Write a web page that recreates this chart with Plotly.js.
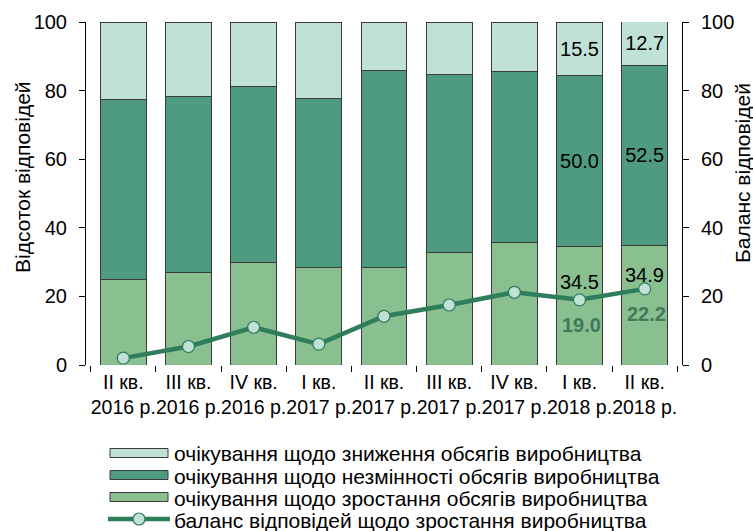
<!DOCTYPE html>
<html>
<head>
<meta charset="utf-8">
<script src="https://cdn.plot.ly/plotly-3.0.1.min.js"></script>
<style>html,body{margin:0;padding:0;background:#fff;}#chart{width:753px;height:531px;}</style>
</head>
<body>
<div id="chart"></div>
<script>
const categories = ["II кв.<br>2016 р.","III кв.<br>2016 р.","IV кв.<br>2016 р.","I кв.<br>2017 р.","II кв.<br>2017 р.","III кв.<br>2017 р.","IV кв.<br>2017 р.","I кв.<br>2018 р.","II кв.<br>2018 р."];
const growth    = [24.8, 27.1, 29.9, 28.3, 28.4, 32.9, 35.6, 34.5, 34.9];
const unchanged = [52.6, 51.3, 51.4, 49.4, 57.4, 51.9, 50.1, 50.0, 52.5];
const decrease  = [22.6, 21.6, 18.7, 22.3, 14.2, 15.2, 14.3, 15.5, 12.7];
const balance   = [2.0, 5.4, 11.0, 6.1, 14.2, 17.5, 21.2, 19.0, 22.2];
const growthLabels    = ["","","","","","","","34.5","34.9"];
const unchangedLabels = ["","","","","","","","50.0","52.5"];
const decreaseLabels  = ["","","","","","","","15.5","12.7"];
const balanceLabels   = ["","","","","","","","19.0","22.2"];
const names = [
  "очікування щодо зниження обсягів виробництва",
  "очікування щодо незмінності обсягів виробництва",
  "очікування щодо зростання обсягів виробництва",
  "баланс відповідей щодо зростання виробництва"
];
const yTitle = "Відсоток відповідей";
const y2Title = "Баланс відповідей";

const FAM = "Liberation Sans, Arial, sans-serif";
const C_DEC = "#c0e2d6", C_UNCH = "#4e9b80", C_GROW = "#8abf90", C_LINE = "#2e7d5b", C_LBL = "#3f7a5c";
const outline = {color: "#3a3a3a", width: 1};

const W = 753, H = 531, ML = 86, MR = 71, MT = 22, MB = 166;
const PW = W - ML - MR, PH = H - MT - MB;
const px = v => (v - ML) / PW;
const py = v => (H - MB - v) / PH;

const traces = [
  {type: "bar", x: categories, y: growth, name: names[2],
   marker: {color: C_GROW, line: outline}, hoverinfo: "y"},
  {type: "bar", x: categories, y: unchanged, name: names[1],
   marker: {color: C_UNCH, line: outline},
   text: unchangedLabels, textposition: "inside", insidetextanchor: "middle",
   textfont: {family: FAM, size: 20, color: "#000"}, hoverinfo: "y"},
  {type: "bar", x: categories, y: decrease, name: names[0],
   marker: {color: C_DEC, line: outline},
   text: decreaseLabels, textposition: "inside", insidetextanchor: "middle",
   textfont: {family: FAM, size: 20, color: "#000"}, hoverinfo: "y"},
  {type: "scatter", mode: "lines+markers", x: categories, y: balance, yaxis: "y2",
   name: names[3],
   line: {color: C_LINE, width: 4.5},
   marker: {size: 12, color: C_DEC, line: {color: C_LINE, width: 1.2}}}
];

const annotations = [];
const growthShift = [0,0,0,0,0,0,0,-35,-30];
categories.forEach((c, i) => {
  if (growthLabels[i]) annotations.push({x: c, y: growth[i], xref: "x", yref: "y", text: growthLabels[i],
    showarrow: false, yshift: growthShift[i], font: {family: FAM, size: 20, color: "#000"}});
  if (balanceLabels[i]) annotations.push({x: c, y: balance[i], xref: "x", yref: "y2", text: balanceLabels[i],
    showarrow: false, yshift: -25, xshift: 2, font: {family: FAM, size: 20, color: C_LBL, weight: "bold"}});
});
// axis titles
annotations.push({xref: "paper", yref: "paper", x: px(22), y: py(177), text: yTitle, textangle: -90,
  showarrow: false, xanchor: "center", yanchor: "middle", font: {family: FAM, size: 21, color: "#000"}});
annotations.push({xref: "paper", yref: "paper", x: px(742), y: py(173), text: y2Title, textangle: -90,
  showarrow: false, xanchor: "center", yanchor: "middle", font: {family: FAM, size: 21, color: "#000"}});

// custom legend
const shapes = [];
const legColors = [C_DEC, C_UNCH, C_GROW];
const legY = [453, 475, 497, 519];
for (let i = 0; i < 3; i++) {
  shapes.push({type: "rect", xref: "paper", yref: "paper", x0: px(110), x1: px(168),
    y0: py(legY[i] - 4.5), y1: py(legY[i] + 4.5), fillcolor: legColors[i], line: {color: "#3a3a3a", width: 1}});
}
shapes.push({type: "line", xref: "paper", yref: "paper", x0: px(108), x1: px(170), y0: py(legY[3]), y1: py(legY[3]),
  line: {color: C_LINE, width: 4.5}});
shapes.push({type: "circle", xref: "paper", yref: "paper", x0: px(133), x1: px(145), y0: py(legY[3] - 6), y1: py(legY[3] + 6),
  fillcolor: C_DEC, line: {color: C_LINE, width: 1.2}});
for (let i = 0; i < 4; i++) {
  annotations.push({xref: "paper", yref: "paper", x: px(172), y: py(legY[i] + 1), text: names[i],
    showarrow: false, xanchor: "left", yanchor: "middle", font: {family: FAM, size: 21, color: "#000"}});
}

const layout = {
  width: W, height: H,
  margin: {l: ML, r: MR, t: MT, b: MB, autoexpand: false},
  paper_bgcolor: "#fff", plot_bgcolor: "#fff",
  font: {family: FAM, size: 16, color: "#000"},
  barmode: "stack", bargap: 0.295,
  showlegend: false,
  xaxis: {type: "category", showline: false, ticks: "outside", tickson: "boundaries", tickangle: 0,
          ticklen: 6, tickcolor: "#000", tickfont: {size: 19.5}, ticklabelstandoff: 3,
          showgrid: false, zeroline: false, automargin: false},
  yaxis: {range: [0, 100], tickvals: [0,20,40,60,80,100], ticks: "outside", ticklen: 6,
          showline: true, linecolor: "#000", linewidth: 1, tickcolor: "#000", ticklabelstandoff: 8,
          showgrid: false, zeroline: false, tickfont: {size: 20}, automargin: false},
  yaxis2: {range: [0, 100], tickvals: [0,20,40,60,80,100], overlaying: "y", side: "right",
           ticks: "outside", ticklen: 6, showline: true, linecolor: "#000", linewidth: 1,
           tickcolor: "#000", showgrid: false, zeroline: false, tickfont: {size: 20},
           ticklabelstandoff: 8, automargin: false},
  annotations: annotations,
  shapes: shapes
};

Plotly.newPlot("chart", traces, layout, {displayModeBar: false, staticPlot: true});
</script>
</body>
</html>
